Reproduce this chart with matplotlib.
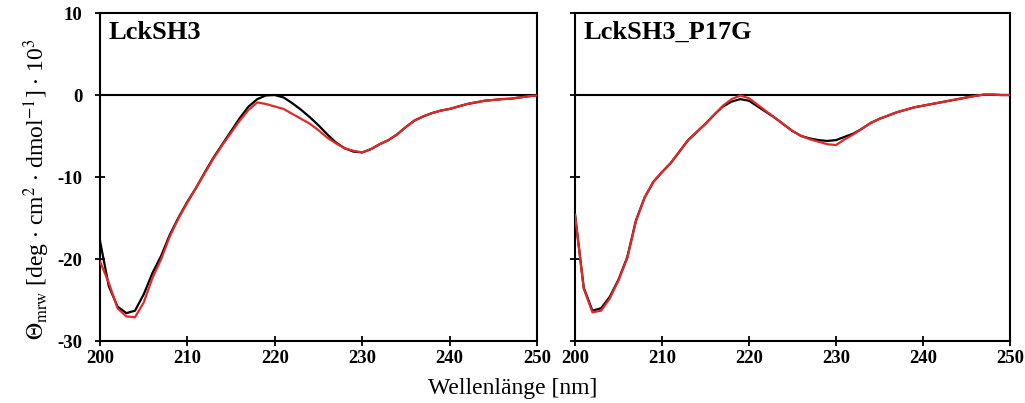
import numpy as np
import matplotlib
matplotlib.use("Agg")
import matplotlib.pyplot as plt

plt.rcParams["font.family"] = ["Liberation Serif", "DejaVu Serif"]
plt.rcParams["mathtext.fontset"] = "stix"
plt.rcParams["axes.unicode_minus"] = False

# wavelength grid [nm]
wl = np.arange(200, 251)

# LckSH3 (left panel)
wt_black = [-17.8, -23.3, -25.8, -26.6, -26.3, -24.3, -21.7, -19.6, -17.0, -14.9,
            -13.0, -11.3, -9.4, -7.6, -6.0, -4.4, -2.8, -1.4, -0.5, -0.05,
            0.0, -0.3, -1.0, -1.8, -2.7, -3.7, -4.8, -5.8, -6.5, -6.9,
            -7.0, -6.6, -6.0, -5.5, -4.8, -3.9, -3.1, -2.6, -2.2, -1.9,
            -1.7, -1.4, -1.1, -0.9, -0.7, -0.6, -0.5, -0.45, -0.3, -0.15,
            -0.05]
wt_red = [-20.3, -22.9, -26.0, -27.0, -27.1, -25.3, -22.3, -20.0, -17.2, -15.0,
          -13.1, -11.3, -9.5, -7.7, -6.1, -4.6, -3.1, -1.8, -0.9, -1.1,
          -1.4, -1.7, -2.3, -2.9, -3.5, -4.3, -5.2, -5.9, -6.5, -6.8,
          -7.0, -6.6, -6.0, -5.5, -4.8, -3.9, -3.1, -2.6, -2.2, -1.9,
          -1.7, -1.4, -1.1, -0.9, -0.7, -0.6, -0.5, -0.45, -0.3, -0.15,
          -0.05]

# LckSH3_P17G (right panel)
mut_black = [-14.6, -23.5, -26.3, -26.0, -24.6, -22.5, -19.8, -15.3, -12.5, -10.6,
             -9.4, -8.3, -6.9, -5.5, -4.5, -3.5, -2.4, -1.4, -0.8, -0.5,
             -0.7, -1.4, -2.1, -2.8, -3.6, -4.4, -5.0, -5.3, -5.5, -5.6,
             -5.5, -5.1, -4.7, -4.1, -3.4, -2.9, -2.5, -2.1, -1.8, -1.5,
             -1.3, -1.1, -0.9, -0.7, -0.5, -0.3, -0.1, 0.05, 0.05, 0.0,
             0.0]
mut_red = [-14.6, -23.6, -26.5, -26.3, -24.8, -22.6, -19.9, -15.4, -12.5, -10.6,
           -9.4, -8.3, -6.9, -5.5, -4.5, -3.5, -2.4, -1.3, -0.5, -0.05,
           -0.4, -1.2, -2.0, -2.8, -3.6, -4.4, -5.0, -5.4, -5.7, -6.0,
           -6.1, -5.4, -4.8, -4.1, -3.4, -2.9, -2.5, -2.1, -1.8, -1.5,
           -1.3, -1.1, -0.9, -0.7, -0.5, -0.3, -0.1, 0.05, 0.05, 0.0,
           0.0]

titles = ["LckSH3", "LckSH3_P17G"]
xticks = [200, 210, 220, 230, 240, 250]
yticks = [-30, -20, -10, 0, 10]
red = "#e02a2a"

fig = plt.figure(figsize=(10.25, 4.03), dpi=100)
ax1 = fig.add_axes([0.0976, 0.1538, 0.4263, 0.8139])
ax2 = fig.add_axes([0.561, 0.1538, 0.4244, 0.8139])

for ax, blk, rd, title in [(ax1, wt_black, wt_red, titles[0]),
                           (ax2, mut_black, mut_red, titles[1])]:
    ax.axhline(0, color="black", lw=1.5, zorder=1)
    ax.plot(wl, blk, color="black", lw=1.6, zorder=2)
    ax.plot(wl, rd, color=red, lw=1.6, zorder=3)
    ax.set_xlim(200, 250)
    ax.set_ylim(-30, 10)
    ax.set_xticks(xticks)
    ax.set_yticks(yticks)
    ax.tick_params(direction="inout", length=7, width=1.3, labelsize=13.5)
    ax.tick_params(axis="y", pad=9)
    ax.tick_params(axis="x", pad=3)
    for lab in ax.get_xticklabels() + ax.get_yticklabels():
        lab.set_fontweight("bold")
    for sp in ax.spines.values():
        sp.set_linewidth(1.5)
    ax.text(0.02, 0.975, title, transform=ax.transAxes, ha="left", va="top",
            fontsize=19, fontweight="bold")

ax2.set_yticklabels([])

fig.text(0.5, 0.035, "Wellenlänge [nm]", ha="center", va="center", fontsize=17)
fig.text(0.036, 0.53,
         r"$\Theta_{\mathrm{mrw}}$ [deg $\cdot$ cm$^{2}$ $\cdot$ dmol$^{-1}$] $\cdot$ 10$^{3}$",
         rotation=90, ha="center", va="center", fontsize=17)

fig.savefig("out.png", dpi=100)
